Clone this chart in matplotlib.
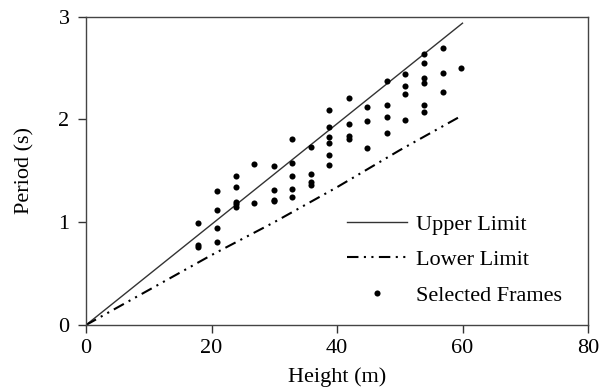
import matplotlib
matplotlib.use("Agg")
import matplotlib.pyplot as plt

# Upper limit line
upper_height = [0, 60]
upper_period = [0, 2.935]

# Lower limit line
lower_height = [0, 10, 20, 30, 40, 50, 60]
lower_period = [0, 0.34, 0.68, 1.00, 1.34, 1.70, 2.04]

# Selected frames
frame_height = [17.8, 17.8, 17.8,
                20.8, 20.8, 20.8, 20.8,
                23.9, 23.9, 23.9, 23.9, 23.9,
                26.8, 26.8,
                30.0, 30.0, 30.0, 30.0,
                32.8, 32.8, 32.8, 32.8, 32.8,
                35.9, 35.9, 35.9, 35.9,
                38.8, 38.8, 38.8, 38.8, 38.8, 38.8,
                41.9, 41.9, 41.9, 41.9,
                44.75, 44.75, 44.75,
                47.9, 47.9, 47.9, 47.9,
                50.9, 50.9, 50.9, 50.9,
                53.8, 53.8, 53.8, 53.8, 53.8, 53.8,
                56.9, 56.9, 56.9,
                59.7]
frame_period = [0.99, 0.78, 0.76,
                1.30, 1.12, 0.945, 0.81,
                1.45, 1.34, 1.20, 1.175, 1.146,
                1.57, 1.19,
                1.55, 1.31, 1.22, 1.21,
                1.81, 1.58, 1.45, 1.32, 1.24,
                1.73, 1.47, 1.39, 1.36,
                2.09, 1.93, 1.825, 1.77, 1.65, 1.56,
                2.21, 1.95, 1.835, 1.81,
                2.12, 1.98, 1.72,
                2.37, 2.14, 2.02, 1.87,
                2.44, 2.32, 2.25, 1.99,
                2.64, 2.55, 2.40, 2.35, 2.14, 2.07,
                2.69, 2.45, 2.27,
                2.50]

x_ticks = [0, 20, 40, 60, 80]
y_ticks = [0, 1, 2, 3]

plt.rcParams['font.family'] = ['Liberation Serif', 'DejaVu Serif']

fig = plt.figure(figsize=(6.14, 3.92), dpi=100)
ax = fig.add_axes([86/614, 1-325/392, 502/614, 308.5/392])

ax.plot(upper_height, upper_period, color='#333333', lw=1.0, label='Upper Limit')
ax.plot(lower_height, lower_period, color='black', lw=1.5,
        linestyle=(0, (5.5, 2.6, 1.0, 2.6, 1.0, 2.6)), label='Lower Limit')
ax.plot(frame_height, frame_period, 'o', color='black', ms=4.4, mew=0,
        label='Selected Frames')

ax.set_xlim(0, 80)
ax.set_ylim(0, 3)
ax.set_xticks(x_ticks)
ax.set_yticks(y_ticks)
ax.tick_params(direction='out', length=5.8, width=1.0, color='#333333',
               labelsize=16, pad=4)
ax.tick_params(axis='y', pad=6)
for s in ax.spines.values():
    s.set_color('#444444')
    s.set_linewidth(1.0)

ax.set_xlabel('Height (m)', fontsize=16, labelpad=7)
ax.set_ylabel('Period (s)', fontsize=16, labelpad=17)

leg = ax.legend(loc='upper left', bbox_to_anchor=(347/614, 1-214/392),
                bbox_transform=fig.transFigure, frameon=False, fontsize=16,
                handlelength=2.7, handletextpad=0.4, labelspacing=0.68,
                borderpad=0, borderaxespad=0, numpoints=1)

fig.savefig('out.png', dpi=100)
